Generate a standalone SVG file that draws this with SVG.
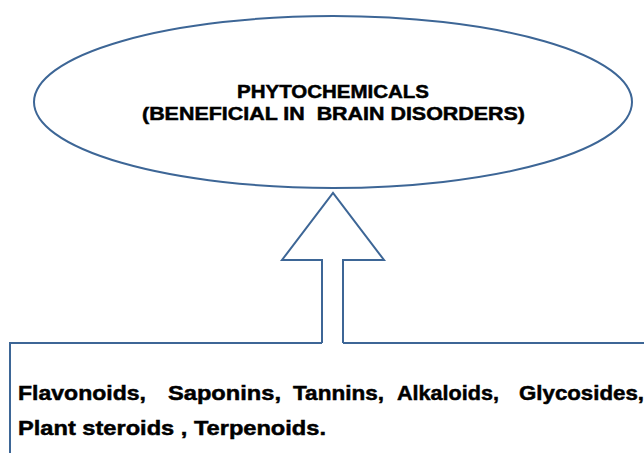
<svg xmlns="http://www.w3.org/2000/svg" width="644" height="453" viewBox="0 0 644 453">
<style>
.shape{fill:#fff;stroke:#3d6696;stroke-width:2}
.t{font-family:"Liberation Sans",Arial,sans-serif;font-weight:bold;fill:#000;stroke:#000;stroke-width:0.5}
.h{font-size:18.5px}
.b{font-size:21px}
</style>
<rect width="644" height="453" fill="#fff"/>
<g id="sources">
<path class="shape" d="M10,455 V343 H322 M343,343 H646"/>
<text class="t b" x="18" y="400" textLength="128" lengthAdjust="spacingAndGlyphs">Flavonoids,</text>
<text class="t b" x="168" y="400" textLength="113" lengthAdjust="spacingAndGlyphs">Saponins,</text>
<text class="t b" x="293" y="400" textLength="91" lengthAdjust="spacingAndGlyphs">Tannins,</text>
<text class="t b" x="397" y="400" textLength="102" lengthAdjust="spacingAndGlyphs">Alkaloids,</text>
<text class="t b" x="519" y="400" textLength="125" lengthAdjust="spacingAndGlyphs">Glycosides,</text>
<text class="t b" x="18" y="435" textLength="308" lengthAdjust="spacingAndGlyphs">Plant steroids , Terpenoids.</text>
</g>
<g id="connectors">
<path class="shape" d="M322,343 V260 H282 L333,193 L384,260 H343 V343" stroke-linejoin="miter"/>
</g>
<g id="phytochemicals">
<ellipse class="shape" cx="333" cy="102" rx="299" ry="86"/>
<text class="t h" x="237" y="98" textLength="192" lengthAdjust="spacingAndGlyphs">PHYTOCHEMICALS</text>
<text class="t h" x="142" y="120" textLength="383" lengthAdjust="spacingAndGlyphs" xml:space="preserve">(BENEFICIAL IN  BRAIN DISORDERS)</text>
</g>
</svg>
